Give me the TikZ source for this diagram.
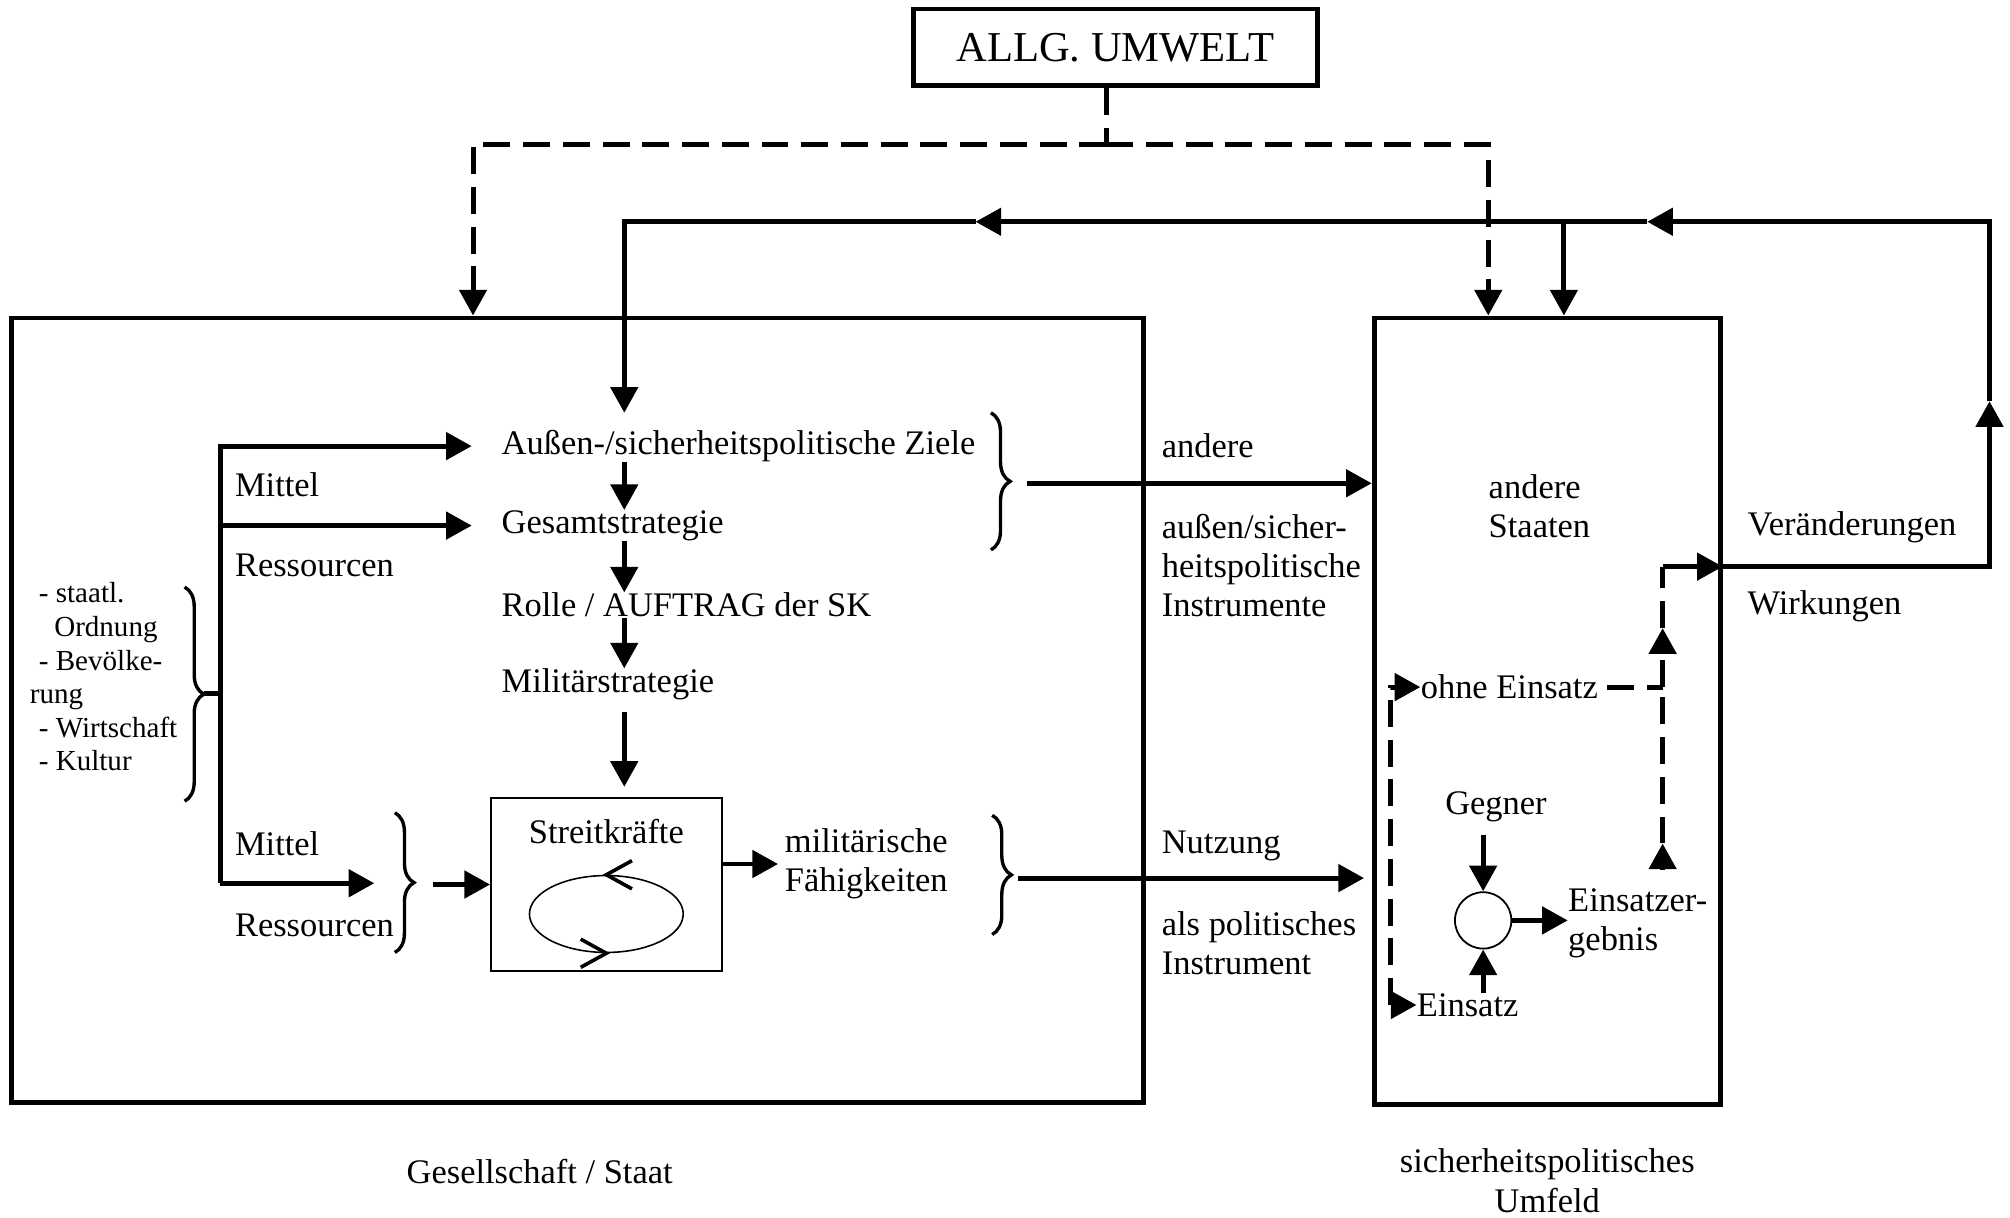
\documentclass[tikz,border=0pt]{standalone}
\usepackage{fontspec}
\setmainfont{Liberation Serif}
\usetikzlibrary{arrows.meta,decorations.pathreplacing,shapes.geometric}

\newcommand{\hauptschrift}{\fontsize{15.3}{17.4}\selectfont}
\newcommand{\listenschrift}{\fontsize{12.9}{14.9}\selectfont}
\newcommand{\titelschrift}{\fontsize{18.9}{22}\selectfont}

\begin{document}
\begin{tikzpicture}[x=0.02cm, y=-0.02cm,
    linie/.style={line width=2.2pt},
    pfeil/.style={linie, -{Triangle[length=0.4cm, width=0.42cm]}},
    strichlinie/.style={linie, dash pattern=on 0.42cm off 0.2cm},
    strichpfeil/.style={strichlinie, -{Triangle[length=0.4cm, width=0.42cm]}},
    klammer/.style={decorate, decoration={brace, amplitude=0.3cm}, line width=1.5pt},
    txt/.style={inner sep=0pt, anchor=west, font=\hauptschrift},
    mtxt/.style={txt, align=left},
    rahmen/.style={draw, line width=2.2pt, inner sep=0pt}]
    \useasboundingbox (0,0) rectangle (1568,950);

    % Kaesten
    \node[rahmen, minimum width=6.3cm, minimum height=1.2cm, font=\titelschrift] (umwelt) at (870,37) {ALLG. UMWELT};
    \node[rahmen, minimum width=17.66cm, minimum height=12.24cm] (staat) at (450.5,554) {};
    \node[rahmen, minimum width=5.4cm, minimum height=12.28cm] (umfeld) at (1207,555) {};

    % Gesellschaft / Staat
    \node[txt] (ziele) at (391,348) {Außen-/sicherheitspolitische Ziele};
    \node[txt] (gesamt) at (391,410) {Gesamtstrategie};
    \node[txt] (rolle) at (391,472) {Rolle / AUFTRAG der SK};
    \node[txt] (milstrat) at (391,534) {Militärstrategie};
    \node[rahmen, line width=0.8pt, minimum width=3.6cm, minimum height=2.7cm] (sk) at (473,690) {};
    \node[txt, anchor=center] (sktext) at (473,649) {Streitkräfte};
    \node[draw, ellipse, line width=0.7pt, minimum width=2.4cm, minimum height=1.2cm, inner sep=0pt] (zyklus) at (473,713) {};
    \node[mtxt] (faehig) at (612,674) {militärische\\Fähigkeiten};

    \node[txt] (mittel1) at (183,378) {Mittel};
    \node[txt] (ress1) at (183,441) {Ressourcen};
    \node[txt] (mittel2) at (183,658) {Mittel};
    \node[txt] (ress2) at (183,722) {Ressourcen};
    \node[mtxt, font=\listenschrift] (bereiche) at (23,528) {\hspace*{0.14cm}- staatl.\\\hspace*{0.38cm}Ordnung\\\hspace*{0.14cm}- Bevölke-\\rung\\\hspace*{0.14cm}- Wirtschaft\\\hspace*{0.14cm}- Kultur};

    % zwischen den Kaesten
    \node[txt] (andere) at (906,348) {andere};
    \node[mtxt] (instr) at (906,441) {außen/sicher-\\heitspolitische\\Instrumente};
    \node[txt] (nutzung) at (906,660) {Nutzung};
    \node[mtxt] (polinstr) at (906,736) {als politisches\\Instrument};

    % sicherheitspolitisches Umfeld
    \node[mtxt] (staaten) at (1161,395) {andere\\Staaten};
    \node[txt] (ohne) at (1108,536) {ohne Einsatz};
    \node[txt, anchor=center] (gegner) at (1167,629) {Gegner};
    \node[draw, circle, line width=0.8pt, minimum size=0.88cm, inner sep=0pt] (kreis) at (1157,718) {};
    \node[mtxt] (ergebnis) at (1223,720) {Einsatzer-\\gebnis};
    \node[txt] (einsatz) at (1105,784) {Einsatz};
    \node[txt] (veraend) at (1363,411) {Veränderungen};
    \node[txt] (wirkung) at (1363,473) {Wirkungen};

    % Beschriftung unten
    \node[txt, anchor=center] (gesstaat) at (421,914) {Gesellschaft / Staat};
    \node[txt, anchor=center, align=center] (umfeldtext) at (1207,921) {sicherheitspolitisches\\Umfeld};

    % Hilfspunkte
    \coordinate (spalte) at (487,0);
    \coordinate (zielein) at (487,322);
    \coordinate (uwknick) at (863,113);
    \coordinate (links) at (369,113);
    \coordinate (rechts) at (1161,113);
    \coordinate (stamm) at (172,689);
    \coordinate (klammer1) at (159,541);
    \coordinate (pfeil3) at (292,689);
    \coordinate (spitze3) at (325,690);
    \coordinate (spitze1) at (789,377);
    \coordinate (spitze2) at (787,685);
    \coordinate (hoch) at (1552,313);
    \coordinate (tipR) at (1285,173);
    \coordinate (tipL) at (761,173);
    \coordinate (abzweig) at (1220,173);
    \coordinate (ergoben) at (1297,679);
    \coordinate (hoch1) at (1297,658);
    \coordinate (knick) at (1297,536);
    \coordinate (hoch2) at (1297,490);
    \coordinate (wirkstart) at (1297,442);

    % Einfluss der allg. Umwelt
    \draw[strichlinie] (umwelt.south -| uwknick) -- (uwknick);
    \draw[strichpfeil] (uwknick) -| (staat.north -| links);
    \draw[strichpfeil] (uwknick) -| (umfeld.north -| rechts);

    % Rueckkopplung
    \draw[pfeil] (wirkstart -| umfeld.east) -| (hoch);
    \draw[pfeil] (hoch) |- (tipR);
    \draw[pfeil] (tipR) -- (tipL);
    \draw[pfeil] (tipL) -| (zielein);
    \draw[pfeil] (abzweig) -- (abzweig |- umfeld.north);

    % Zielkette
    \draw[pfeil] (ziele.south -| spalte) -- (gesamt.north -| spalte);
    \draw[pfeil] (gesamt.south -| spalte) -- (rolle.north -| spalte);
    \draw[pfeil] (rolle.south -| spalte) -- (milstrat.north -| spalte);
    \draw[pfeil, shorten <=0.18cm, shorten >=0.16cm] (milstrat.south -| spalte) -- (sk.north -| spalte);

    % Mittel / Ressourcen
    \draw[klammer] (144,458) -- (144,625);
    \draw[linie] (klammer1) -- (klammer1 -| stamm);
    \draw[pfeil, shorten >=0.46cm] (stamm) |- (ziele.west);
    \draw[pfeil, shorten >=0.46cm] (gesamt.west -| stamm) -- (gesamt.west);
    \draw[pfeil] (stamm) -- (pfeil3);
    \draw[klammer] (308,634) -- (308,743);
    \draw[pfeil, shorten <=0.26cm] (spitze3) -- (sk.west);

    % Streitkraefte
    \draw[line width=1.6pt] (zyklus.north) ++(20,-11) -- ++(-20,11) -- ++(20,11);
    \draw[line width=1.6pt] (zyklus.south) ++(-20,-11) -- ++(20,11) -- ++(-20,11);
    \draw[pfeil, shorten >=0.1cm] (sk.east |- faehig.west) -- (faehig.west);

    % Instrumente
    \draw[klammer] (773,322) -- (773,429);
    \draw[klammer] (774,636) -- (774,729);
    \draw[pfeil, shorten <=0.24cm] (spitze1) -- (spitze1 -| umfeld.west);
    \draw[pfeil, shorten <=0.14cm, shorten >=0.12cm] (spitze2) -- (spitze2 -| umfeld.west);

    % Einsatz
    \draw[strichpfeil] (einsatz.west) ++(-20,0) coordinate (einsatzlinks) |- (ohne.west);
    \draw[pfeil] (einsatzlinks) -- (einsatz.west);
    \draw[pfeil, shorten <=0.2cm] (gegner.south -| kreis.north) -- (kreis.north);
    \draw[pfeil] (einsatz.north -| kreis.south) -- (kreis.south);
    \draw[pfeil] (kreis.east) -- (kreis.east -| ergebnis.west);
    \draw[strichlinie, shorten <=0.14cm] (ohne.east) -- (knick);
    \draw[strichpfeil] (ergoben) -- (hoch1);
    \draw[strichlinie] (hoch1) -- (knick);
    \draw[strichpfeil] (knick) -- (hoch2);
    \draw[strichlinie] (hoch2) -- (wirkstart);
    \draw[pfeil] (wirkstart) -- (wirkstart -| umfeld.east);
\end{tikzpicture}
\end{document}
